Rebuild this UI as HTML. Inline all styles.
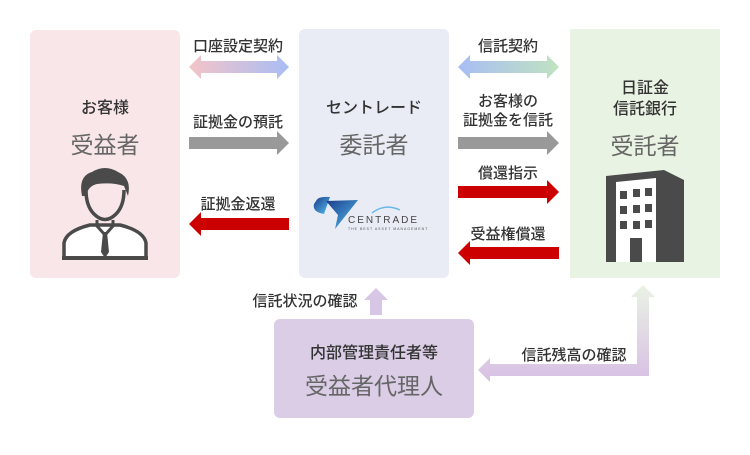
<!DOCTYPE html>
<html><head><meta charset="utf-8"><style>
html,body{margin:0;padding:0;background:#fff;}
svg text{font-family:"Liberation Sans","Noto Sans CJK JP",sans-serif;}
</style></head><body>
<svg width="750" height="450" viewBox="0 0 750 450" xmlns="http://www.w3.org/2000/svg">
<defs>
<linearGradient id="g1" x1="0" x2="1"><stop offset="0" stop-color="#f4c4c8"/><stop offset="1" stop-color="#a9bdf5"/></linearGradient>
<linearGradient id="g2" x1="0" x2="1"><stop offset="0" stop-color="#a9bdf5"/><stop offset="1" stop-color="#bfe3c0"/></linearGradient>
<linearGradient id="g3" x1="0" y1="1" x2="0" y2="0"><stop offset="0" stop-color="#d8bfe4"/><stop offset="1" stop-color="#e9f3e4"/></linearGradient>
<linearGradient id="lg" x1="0" y1="0" x2="1" y2="1"><stop offset="0" stop-color="#1a3a8a"/><stop offset="1" stop-color="#55c0f0"/></linearGradient>
</defs>
<rect x="30" y="30" width="150" height="248" rx="6" fill="#f8e6e8"/>
<rect x="299" y="29" width="150" height="249" rx="6" fill="#e9ecf5"/>
<rect x="570" y="29" width="150" height="249" fill="#e8f3e3"/>
<rect x="274" y="319" width="200" height="99" rx="6" fill="#dacde5"/>

<g font-size="16" font-weight="500" fill="#333" text-anchor="middle">
<text x="105" y="113">お客様</text>
<text x="374" y="113">セントレード</text>
<text x="645" y="93">日証金</text>
<text x="645" y="114">信託銀行</text>
<text x="374" y="358">内部管理責任者等</text>
</g>
<g font-size="23" fill="#666" text-anchor="middle">
<text x="105" y="153">受益者</text>
<text x="374" y="153">委託者</text>
<text x="645" y="154">受託者</text>
<text x="374" y="394">受益者代理人</text>
</g>

<g font-size="15" font-weight="500" fill="#333" text-anchor="middle">
<text x="238" y="51">口座設定契約</text>
<text x="238" y="127">証拠金の預託</text>
<text x="238" y="209">証拠金返還</text>
<text x="508" y="51">信託契約</text>
<text x="508" y="106">お客様の</text>
<text x="508" y="125">証拠金を信託</text>
<text x="508" y="178">償還指示</text>
<text x="508" y="239">受益権償還</text>
<text x="305" y="306">信託状況の確認</text>
<text x="574" y="360">信託残高の確認</text>
</g>

<path d="M189 67 L201 55 L201 61 L277 61 L277 55 L289 67 L277 79 L277 73 L201 73 L201 79 Z" fill="url(#g1)"/>
<path d="M458 67 L470 55 L470 61 L547 61 L547 55 L559 67 L547 79 L547 73 L470 73 L470 79 Z" fill="url(#g2)"/>
<path d="M189 137 L277 137 L277 131 L289 143 L277 155 L277 149 L189 149 Z" fill="#999"/>
<path d="M458 137 L547 137 L547 131 L559 143 L547 155 L547 149 L458 149 Z" fill="#999"/>
<path d="M458 186 L547 186 L547 180 L559 192 L547 204 L547 198 L458 198 Z" fill="#cc0000"/>
<path d="M289 218 L201 218 L201 212 L189 224 L201 236 L201 230 L289 230 Z" fill="#cc0000"/>
<path d="M559 247 L470 247 L470 241 L458 253 L470 265 L470 259 L559 259 Z" fill="#cc0000"/>
<path d="M376 288 L388 300 L382 300 L382 315 L370 315 L370 300 L364 300 Z" fill="#d8c6e6"/>
<path d="M643 285 L655 297 L649 297 L649 376 L490 376 L490 382 L478 370 L490 358 L490 364 L637 364 L637 297 L631 297 Z" fill="url(#g3)"/>

<!-- person icon -->
<g fill="none" stroke="#4a4a4a" stroke-width="3.5">
<path d="M64 258 L64 243 Q66 231 90 225 L120 225 Q144 231 146 243 L146 258 Z" fill="#fff"/>
<path d="M86 190 Q86 206 94 214 Q105 225 116 214 Q124 206 124 190"/>
</g>
<path d="M82 196 Q78 176 92 172 Q105 164 118 172 Q132 178 128 196 L124 186 Q112 182 97 184 Q88 186 86 196 Z" fill="#4a4a4a"/>
<path d="M97 220 L97 226 L105 235 L113 226 L113 220" fill="none" stroke="#4a4a4a" stroke-width="3"/>
<path d="M103 232 L107 232 L109 252 L105 258 L101 252 Z" fill="#4a4a4a"/>
<path d="M62 256 L148 256 L148 260 L62 260 Z" fill="#4a4a4a"/>

<!-- logo -->
<path d="M316 201 Q318 196 330 197 L324 214 Q312 212 314 204 Z" fill="url(#lg)"/>
<path d="M326 201 L358 200 L335 229 L338 215 Z" fill="url(#lg)"/>
<text x="348" y="223" font-size="10" fill="#444" letter-spacing="2" style="font-family:'Liberation Sans',sans-serif">CENTRADE</text>
<text x="348" y="230" font-size="3.5" fill="#555" letter-spacing="1">THE BEST ASSET MANAGEMENT</text>
<path d="M372 213 Q385 203 400 210" fill="none" stroke="#6ab8ea" stroke-width="1.5"/>

<!-- building -->
<path d="M606 176 L664 170 L684 180 L684 262 L606 262 Z" fill="#4a4a4a"/>
<path d="M616 182 L656 178 L656 262 L616 262 Z" fill="#fff"/>
<g fill="#4a4a4a">
<rect x="620" y="191" width="7" height="8"/><rect x="633" y="189" width="7" height="8"/><rect x="645" y="188" width="7" height="8"/>
<rect x="620" y="206" width="7" height="8"/><rect x="633" y="205" width="7" height="8"/><rect x="645" y="204" width="7" height="8"/>
<rect x="620" y="221" width="7" height="8"/><rect x="633" y="221" width="7" height="8"/><rect x="645" y="220" width="7" height="8"/>
<rect x="630" y="238" width="12" height="24"/>
</g>
</svg>
</body></html>
